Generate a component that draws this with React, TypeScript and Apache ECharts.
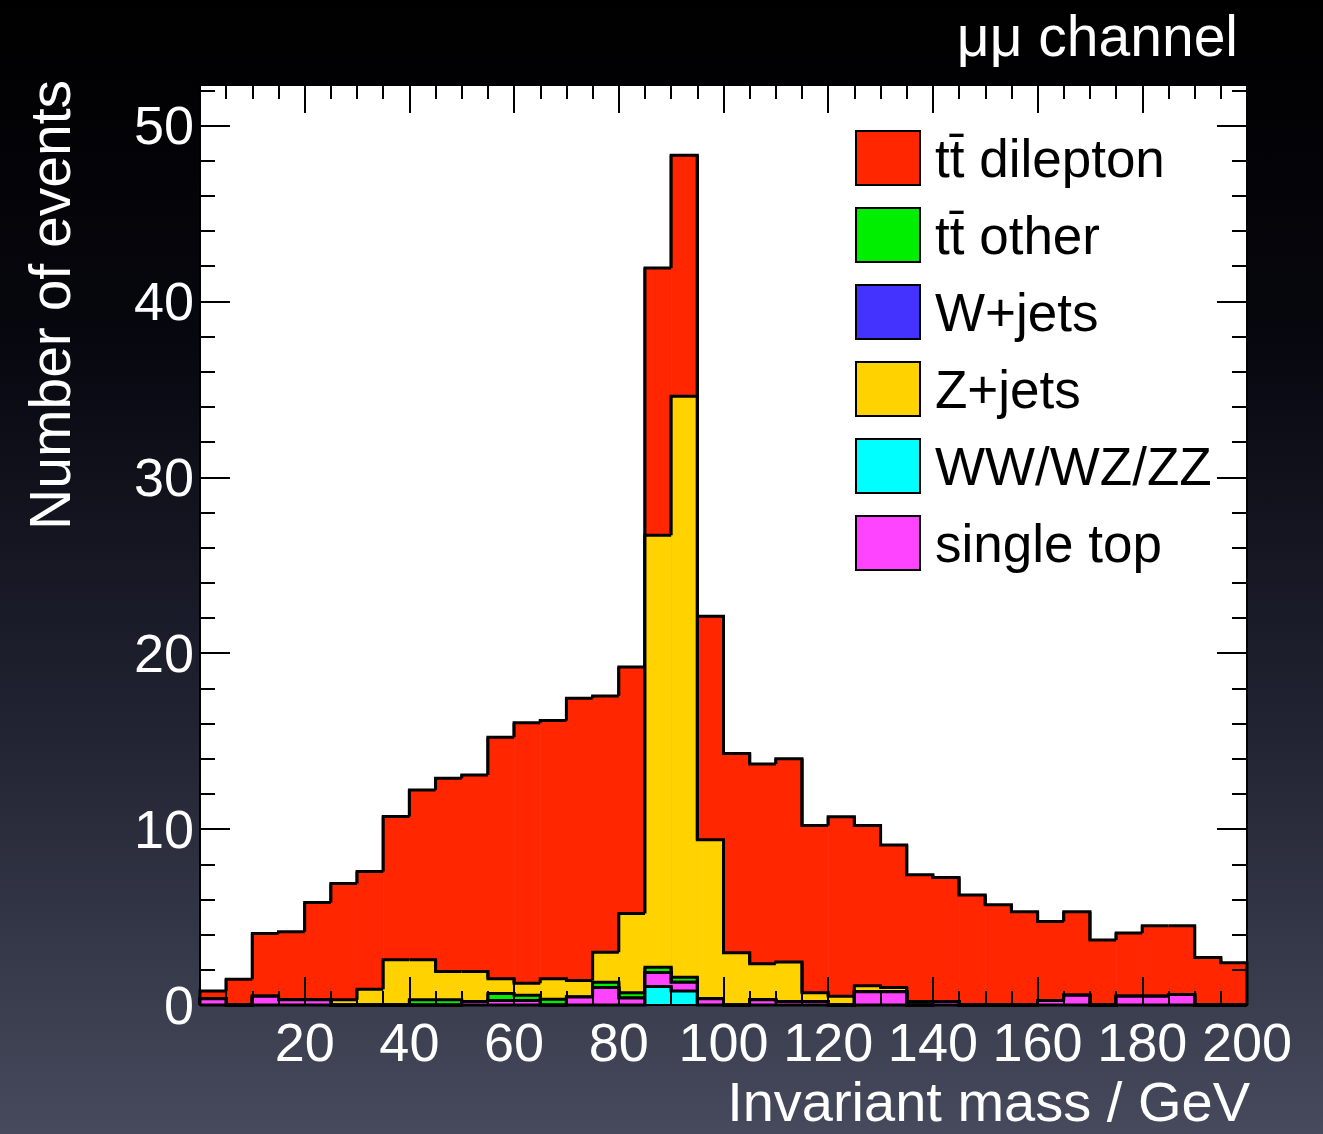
import React, { useEffect, useRef } from "react";
import * as echarts from "echarts";

// Lower edges of the 5 GeV bins (GeV)
const binLow = [
  0, 5, 10, 15, 20, 25, 30, 35, 40, 45, 50, 55, 60, 65, 70, 75, 80, 85, 90, 95,
  100, 105, 110, 115, 120, 125, 130, 135, 140, 145, 150, 155, 160, 165, 170, 175, 180, 185, 190, 195,
];
const binWidth = 5;

// Event counts per bin for each process
const ttDilepton = [
  0.45, 1.46, 3.56, 3.87, 5.53, 6.61, 6.69, 8.15, 9.65, 10.99, 11.18, 13.73, 14.8, 14.68, 16.05, 14.56, 14.01, 15.2, 13.7, 12.7,
  11.33, 11.35, 11.56, 9.5, 10.2, 9.1, 8.1, 7.2, 7.05, 6.25, 5.7, 5.3, 4.5, 4.75, 3.7, 3.6, 4.0, 3.9, 2.7, 2.4,
];
const zJets = [
  0, 0, 0, 0, 0, 0.3, 0.9, 2.57, 2.27, 1.6, 1.7, 0.84, 0.69, 1.16, 0.94, 1.7, 4.5, 24.55, 33.02, 9.05,
  2.97, 2.05, 2.24, 0.5, 0.5, 0.35, 0.25, 0.2, 0, 0, 0, 0, 0, 0, 0, 0, 0, 0, 0, 0,
];
const ttOther = [
  0, 0, 0, 0, 0, 0, 0, 0, 0.3, 0.3, 0, 0.4, 0.3, 0.33, 0, 0.3, 0.3, 0.3, 0.28, 0,
  0, 0, 0, 0, 0, 0, 0, 0, 0, 0, 0, 0, 0, 0, 0, 0, 0, 0, 0, 0,
];
const wJets = [
  0, 0, 0, 0, 0, 0, 0, 0, 0, 0, 0, 0, 0, 0, 0, 0, 0, 0, 0, 0,
  0, 0, 0, 0, 0, 0, 0, 0, 0, 0, 0, 0, 0, 0, 0, 0, 0, 0, 0, 0,
];
const singleTop = [
  0.35, 0, 0.5, 0.3, 0.3, 0, 0, 0, 0, 0, 0.2, 0.25, 0.25, 0, 0.45, 1.0, 0.4, 0.8, 0.5, 0.35,
  0, 0.3, 0.2, 0.2, 0, 0.75, 0.75, 0, 0.2, 0, 0, 0, 0.25, 0.55, 0, 0.5, 0.5, 0.6, 0, 0,
];
const diboson = [
  0, 0, 0, 0, 0, 0, 0, 0, 0, 0, 0, 0, 0, 0, 0, 0, 0, 1.05, 0.8, 0,
  0, 0, 0, 0, 0, 0, 0, 0, 0, 0, 0, 0, 0, 0, 0, 0, 0, 0, 0, 0,
];

// Stack order, bottom to top
const stackNames = ["WW/WZ/ZZ", "single top", "W+jets", "t\u0074\u0304 other", "Z+jets", "t\u0074\u0304 dilepton"];
const stackValues = [diboson, singleTop, wJets, ttOther, zJets, ttDilepton];
const stackColors = ["#00ffff", "#ff44ff", "#4433ff", "#00ee00", "#ffd200", "#ff2600"];
// Legend order
const legendOrder = ["t\u0074\u0304 dilepton", "t\u0074\u0304 other", "W+jets", "Z+jets", "WW/WZ/ZZ", "single top"];

const FONT = "'Liberation Sans', Arial, Helvetica, sans-serif";

export default function App() {
  const ref = useRef<HTMLDivElement>(null);

  useEffect(() => {
    document.body.style.margin = "0";
    const chart = echarts.init(ref.current!, null, { renderer: "svg" });

    // cumulative tops
    const cumulative: number[][] = [];
    let running = binLow.map(() => 0);
    stackValues.forEach((vals) => {
      running = running.map((r, i) => r + vals[i]);
      cumulative.push(running.slice());
    });

    const makeRenderItem = (color: string) => (params: any, api: any) => {
      const x0 = api.value(0);
      const x1 = api.value(1);
      const top = api.value(2);
      const prev = api.value(3);
      const next = api.value(4);
      const a = api.coord([x0, top]);
      const b = api.coord([x1, top]);
      const base = api.coord([x0, 0])[1];
      const yPrev = api.coord([x0, prev])[1];
      const yNext = api.coord([x1, next])[1];
      return {
        type: "group",
        children: [
          {
            type: "rect",
            shape: { x: a[0], y: a[1], width: b[0] - a[0] + 0.6, height: base - a[1] },
            style: { fill: color },
          },
          {
            type: "polyline",
            shape: { points: [[a[0], yPrev], [a[0], a[1]], [b[0], b[1]], [b[0], yNext]] },
            style: { stroke: "#000", lineWidth: 3, fill: null },
          },
        ],
      };
    };

    const series: any[] = [];
    for (let s = stackNames.length - 1; s >= 0; s--) {
      const cum = cumulative[s];
      const data = binLow.map((lo, i) => [
        lo,
        lo + binWidth,
        cum[i],
        i === 0 ? 0 : cum[i - 1],
        i === binLow.length - 1 ? 0 : cum[i + 1],
      ]);
      series.push({
        type: "custom",
        name: stackNames[s],
        renderItem: makeRenderItem(stackColors[s]),
        encode: { x: [0, 1], y: 2 },
        itemStyle: { color: stackColors[s] },
        xAxisIndex: 0,
        yAxisIndex: 0,
        z: 1,
        data,
      });
    }

    const tickLine = { color: "#000", width: 2 };
    const xCommon = { type: "value", min: 0, max: 200, z: 20, splitLine: { show: false } };
    const yCommon = { type: "value", min: 0, max: 52.3, z: 20, splitLine: { show: false } };

    const option: any = {
      animation: false,
      backgroundColor: new echarts.graphic.LinearGradient(0, 0, 0, 1, [
        { offset: 0, color: "#000000" },
        { offset: 0.3, color: "#07070f" },
        { offset: 0.65, color: "#222433" },
        { offset: 1, color: "#464a5c" },
      ]),
      textStyle: { fontFamily: FONT },
      title: {
        text: "\u03bc\u03bc channel",
        right: 80,
        top: 2,
        textStyle: { color: "#fff", fontSize: 57, fontWeight: "normal", fontFamily: FONT },
      },
      grid: {
        left: 200,
        right: 76,
        top: 85,
        bottom: 129,
        show: true,
        backgroundColor: "#ffffff",
        borderWidth: 0,
      },
      legend: {
        orient: "vertical",
        left: 855,
        top: 130,
        padding: 0,
        itemWidth: 64,
        itemHeight: 54,
        itemGap: 21,
        icon: "rect",
        selectedMode: false,
        textStyle: { color: "#000", fontSize: 53, lineHeight: 54, padding: [0, 0, 0, 10], fontFamily: FONT },
        data: legendOrder.map((n) => {
          const idx = stackNames.indexOf(n);
          return {
            name: n,
            itemStyle: { color: stackColors[idx], borderColor: "#000", borderWidth: 2 },
          };
        }),
      },
      xAxis: [
        {
          ...xCommon,
          position: "bottom",
          interval: 20,
          axisLine: { show: true, onZero: false, lineStyle: { color: "#000", width: 2 } },
          axisTick: { inside: true, length: 28, lineStyle: tickLine },
          axisLabel: {
            color: "#fff",
            fontSize: 54,
            margin: 10,
            fontFamily: FONT,
            formatter: (v: number) => (v === 0 ? "" : String(v)),
          },
          name: "Invariant mass / GeV",
          nameLocation: "end",
          nameGap: 3,
          nameTextStyle: {
            color: "#fff",
            fontSize: 56,
            fontFamily: FONT,
            align: "right",
            verticalAlign: "top",
            padding: [68, 0, 0, 0],
          },
        },
        {
          ...xCommon,
          position: "bottom",
          interval: 5,
          axisLine: { show: false, onZero: false },
          axisTick: { inside: true, length: 14, lineStyle: tickLine },
          axisLabel: { show: false },
        },
        {
          ...xCommon,
          position: "top",
          interval: 20,
          axisLine: { show: true, onZero: false, lineStyle: { color: "#000", width: 2 } },
          axisTick: { inside: true, length: 28, lineStyle: tickLine },
          axisLabel: { show: false },
        },
        {
          ...xCommon,
          position: "top",
          interval: 5,
          axisLine: { show: false, onZero: false },
          axisTick: { inside: true, length: 14, lineStyle: tickLine },
          axisLabel: { show: false },
        },
      ],
      yAxis: [
        {
          ...yCommon,
          position: "left",
          interval: 10,
          axisLine: { show: true, onZero: false, lineStyle: { color: "#000", width: 2 } },
          axisTick: { inside: true, length: 30, lineStyle: tickLine },
          axisLabel: {
            color: "#fff",
            fontSize: 54,
            margin: 6,
            fontFamily: FONT,
            formatter: (v: number) => (v % 10 === 0 ? String(v) : ""),
          },
        },
        {
          ...yCommon,
          position: "left",
          interval: 2,
          axisLine: { show: false, onZero: false },
          axisTick: { inside: true, length: 15, lineStyle: tickLine },
          axisLabel: { show: false },
        },
        {
          ...yCommon,
          position: "right",
          interval: 10,
          axisLine: { show: true, onZero: false, lineStyle: { color: "#000", width: 2 } },
          axisTick: { inside: true, length: 30, lineStyle: tickLine },
          axisLabel: { show: false },
        },
        {
          ...yCommon,
          position: "right",
          interval: 2,
          axisLine: { show: false, onZero: false },
          axisTick: { inside: true, length: 15, lineStyle: tickLine },
          axisLabel: { show: false },
        },
      ],
      graphic: [
        {
          type: "text",
          x: 50,
          y: 80,
          rotation: Math.PI / 2,
          style: {
            text: "Number of events",
            fill: "#fff",
            fontSize: 57,
            fontFamily: FONT,
            align: "right",
            verticalAlign: "middle",
          },
        },
      ],
      series,
    };

    chart.setOption(option);
    return () => chart.dispose();
  }, []);

  return <div ref={ref} style={{ width: 1323, height: 1134 }} />;
}
